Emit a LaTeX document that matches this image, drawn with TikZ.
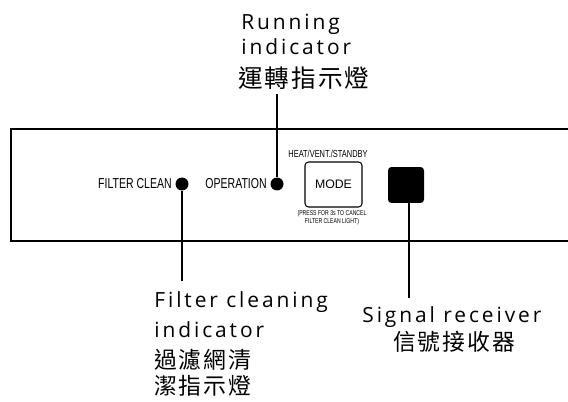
\documentclass[tikz,border=0pt]{standalone}
\usepackage{fontspec}
\setmainfont{Open Sans}[LetterSpace=14]
\newfontfamily\cjkfont[LetterSpace=8]{Noto Sans CJK TC}
\newfontfamily\condfont[FakeStretch=0.73]{Liberation Sans}
\newfontfamily\panelfont{Liberation Sans}
\usetikzlibrary{positioning}

\begin{document}
\begin{tikzpicture}[x=0.02cm, y=-0.02cm,
    lbl/.style={font=\fontsize{11.9}{14}\selectfont, inner sep=0pt, anchor=base west},
    zh/.style={font=\cjkfont\fontsize{13}{15}\selectfont, inner sep=0pt, anchor=base west},
    paneltxt/.style={font=\condfont\fontsize{8.2}{9}\selectfont, inner sep=0pt},
    lamp/.style={circle, fill=black, minimum size=0.26cm, inner sep=0pt},
    lead/.style={line width=0.6pt}
]
\useasboundingbox (0,0) rectangle (568,402);
% Panel
\draw[line width=0.8pt] (568,129) -- (11,129) -- (11,241) -- (568,241);
% Lamps and labels on the panel
\node[lamp] (fdot) at (182,184) {};
\node[paneltxt, anchor=east] (fclean) at (172,184) {FILTER CLEAN};
\node[lamp] (opdot) at (277,184) {};
\node[paneltxt, anchor=east] (oper) at (267,184) {OPERATION};
\node[draw, line width=0.6pt, rounded corners=2pt, minimum width=1.14cm, minimum height=0.9cm,
      font=\panelfont\fontsize{7}{8}\selectfont] (mode) at (333.5,184.5) {MODE};
\node[font=\condfont\fontsize{5.8}{6}\selectfont, inner sep=0pt, anchor=base] (heat) at (328,157) {HEAT/VENT./STANDBY};
\node[font=\condfont\fontsize{4}{3.7}\selectfont, inner sep=0pt, align=center, anchor=north] (press) at (332,210)
    {(PRESS FOR 3s TO CANCEL\\FILTER CLEAN LIGHT)};
\node[fill=black, rounded corners=2pt, minimum size=0.72cm, inner sep=0pt] (rx) at (406,185) {};
% Callout texts
\node[lbl] (run1) at (241,30) {Running};
\node[lbl] (run2) at (241,55) {indicator};
\node[zh, font=\cjkfont\fontsize{14}{16}\selectfont] (runzh) at (238,88) {運轉指示燈};
\node[lbl] (flt1) at (154,307) {Filter cleaning};
\node[lbl] (flt2) at (154,337) {indicator};
\node[zh] (fltzh1) at (154,368) {過濾網清};
\node[zh] (fltzh2) at (154,394) {潔指示燈};
\node[lbl] (sig1) at (362,322) {Signal receiver};
\node[zh] (sigzh) at (393,350) {信號接收器};
% Leaders
\coordinate (runend) at (277,94);
\coordinate (fltend) at (182,281);
\coordinate (sigend) at (409,298);
\draw[lead] (opdot) -- (runend);
\draw[lead] (fdot) -- (fltend);
\draw[lead] (rx.south -| sigend) -- (sigend);
\end{tikzpicture}
\end{document}
